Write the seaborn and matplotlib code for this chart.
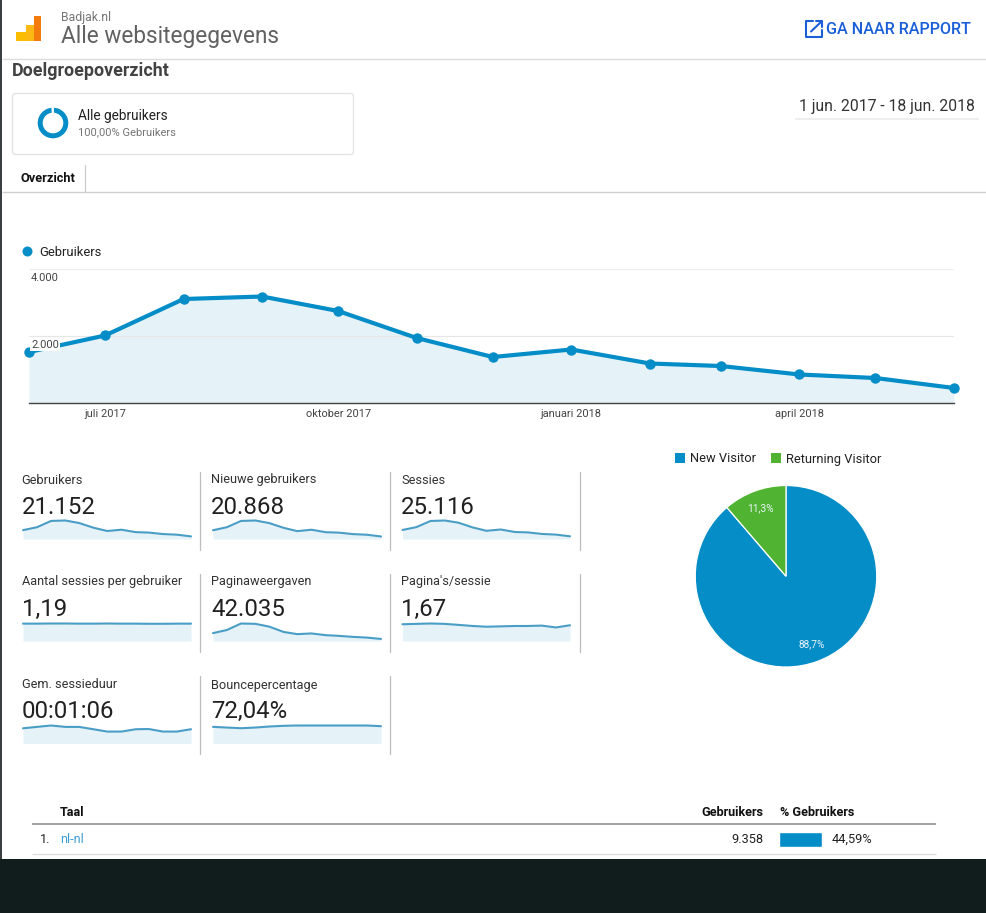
import pandas as pd
import seaborn as sns
import matplotlib
matplotlib.use("Agg")
import matplotlib.pyplot as plt
from matplotlib.patches import Rectangle, FancyBboxPatch

# Chart data
months = ["2017-06-01", "2017-07-01", "2017-08-01", "2017-09-01", "2017-10-01", "2017-11-01", "2017-12-01",
          "2018-01-01", "2018-02-01", "2018-03-01", "2018-04-01", "2018-05-01", "2018-06-01"]
gebruikers = [1522, 2015, 3104, 3179, 2746, 1940, 1373, 1597, 1179, 1104, 851, 746, 448]
nieuwe_gebruikers = [1480, 1990, 3060, 3130, 2700, 1900, 1330, 1570, 1150, 1080, 830, 720, 430]
sessies = [1810, 2370, 3600, 3700, 3260, 2310, 1640, 1900, 1400, 1320, 1010, 880, 540]
sessies_per_gebruiker = [1.19, 1.19, 1.20, 1.20, 1.19, 1.19, 1.20, 1.19, 1.19, 1.18, 1.18, 1.19, 1.19]
paginaweergaven = [3290, 4580, 7300, 7160, 6010, 3800, 2860, 3150, 2430, 2150, 1720, 1430, 860]
paginas_per_sessie = [1.82, 1.86, 1.90, 1.86, 1.75, 1.63, 1.55, 1.59, 1.63, 1.63, 1.67, 1.47, 1.71]
sessieduur = [65, 71, 77, 71, 71, 61, 51, 51, 61, 62, 51, 51, 61]
bounce = [70.3, 67.4, 64.5, 67.4, 71.7, 74.6, 76, 76, 76, 76, 76, 76, 73.1]

metric_names = ["Gebruikers", "Nieuwe gebruikers", "Sessies", "Aantal sessies per gebruiker", "Paginaweergaven",
                "Pagina's/sessie", "Gem. sessieduur", "Bouncepercentage"]
metric_totals = ["21.152", "20.868", "25.116", "1,19", "42.035", "1,67", "00:01:06", "72,04%"]
metric_series = [gebruikers, nieuwe_gebruikers, sessies, sessies_per_gebruiker, paginaweergaven,
                 paginas_per_sessie, sessieduur, bounce]

y_ticks = [2000, 4000]
y_tick_labels = ["2.000", "4.000"]
x_ticks = ["2017-07-01", "2017-10-01", "2018-01-01", "2018-04-01"]
x_tick_labels = ["juli 2017", "oktober 2017", "januari 2018", "april 2018"]

pie_labels = ["New Visitor", "Returning Visitor"]
pie_values = [88.7, 11.3]

taal_share = 44.59

BLUE = "#058dc7"
GREEN = "#50b432"
FILL = "#e5f2f8"
W, H = 986, 913

sns.set_theme(style="white")
plt.rcParams["font.family"] = ["Roboto", "DejaVu Sans"]

fig = plt.figure(figsize=(W / 100, H / 100), dpi=100)


def px_axes(x0, y0, x1, y1, **kw):
    # axes placed by screenshot pixels (y counted from the top)
    return fig.add_axes([x0 / W, 1 - y1 / H, (x1 - x0) / W, (y1 - y0) / H], **kw)


# Canvas for the page furniture, in pixel coordinates
canvas = px_axes(0, 0, W, H)
canvas.set_xlim(0, W)
canvas.set_ylim(H, 0)
canvas.axis("off")


def txt(x, y, s, size, color="#333333", ha="left", weight="normal"):
    canvas.text(x, y + 1, s, fontsize=size, color=color, ha=ha, va="center", weight=weight)


def hline(y, x0, x1, color="#dddddd", lw=0.8):
    canvas.plot([x0, x1], [y, y], color=color, lw=lw, solid_capstyle="butt")


# Window frame and dark footer
canvas.add_patch(Rectangle((0, 0), 2, 860, color="#3a3f42", lw=0))
canvas.add_patch(Rectangle((0, 859), W, 54, color="#111c1c", lw=0))

# Header
canvas.add_patch(Rectangle((16, 32.5), 11, 8.5, color="#fbbc04", lw=0))
canvas.add_patch(Rectangle((26, 25), 8, 16, color="#fdb913", lw=0))
canvas.add_patch(Rectangle((33.5, 16), 7.5, 25, color="#f37c0c", lw=0))
txt(61.5, 16, "Badjak.nl", 8.8, "#757575")
txt(61, 36, "Alle websitegegevens", 16.3, "#616161")
hline(59.5, 2, W, "#dcdcdc", 1)
txt(12, 70, "Doelgroepoverzicht", 12.9, "#424242", weight="bold")

ICON = "#1a5fd8"
canvas.plot([813, 806, 806, 821.5, 821.5], [21.5, 21.5, 37, 37, 30], color=ICON, lw=1.5)
canvas.plot([811, 821.5], [31.5, 21.5], color=ICON, lw=1.5)
canvas.plot([815.5, 821.5, 821.5], [21.5, 21.5, 27.5], color=ICON, lw=1.5)
txt(826, 28, "GA NAAR RAPPORT", 11.6, ICON, weight=500)

txt(975, 106, "1 jun. 2017 - 18 jun. 2018", 11.35, "#333333", ha="right")
hline(119.5, 795, 979, "#eeeeee", 1.4)

# Segment card
canvas.add_patch(FancyBboxPatch((12.5, 93.5), 341, 61, boxstyle="round,pad=0,rounding_size=3",
                                fc="white", ec="#e3e3e3", lw=0.9, mutation_aspect=1))
txt(78.5, 115, "Alle gebruikers", 9.8, "#212121")
txt(78.5, 131, "100,00% Gebruikers", 8, "#757575")
ring = px_axes(37, 107, 69, 139)
ring.pie([99.3, 0.7], colors=[BLUE, "#a8d8ee"], startangle=90, counterclock=False, radius=1,
         wedgeprops={"width": 0.4})
ring.set_xlim(-1, 1)
ring.set_ylim(-1, 1)

# Tab
txt(20.5, 177, "Overzicht", 9.2, "#111111", weight="bold")
canvas.plot([85, 85], [165, 192], color="#cccccc", lw=0.9)
hline(192.5, 2, W, "#cfcfcf", 1)

# Main chart legend
canvas.scatter([27], [251.5], s=52, color=BLUE, lw=0)
txt(39.5, 251, "Gebruikers", 9.4, "#212121")

dates = pd.to_datetime(months)
df = pd.DataFrame({"maand": dates, "gebruikers": gebruikers})

ax = px_axes(29, 269, 954, 403)
ax.patch.set_alpha(0)
ax.set_ylim(0, 4000)
ax.set_xlim(dates[0], dates[-1])
ax.fill_between(dates, gebruikers, 0, color=FILL, lw=0)
ax.axhline(2000, color="#e6e6e6", lw=0.8, zorder=1.5)
ax.axhline(4000, color="#eeeeee", lw=0.8, zorder=1.5)
sns.lineplot(data=df, x="maand", y="gebruikers", ax=ax, color=BLUE, lw=3, marker="o", markersize=7.5,
             markeredgewidth=0, errorbar=None, clip_on=False)
ax.set_xlabel("")
ax.set_ylabel("")
sns.despine(ax=ax, left=True, top=True, right=True)
ax.spines["bottom"].set_color("#444444")
ax.spines["bottom"].set_linewidth(1)
ax.set_xticks(pd.to_datetime(x_ticks), x_tick_labels, fontsize=7.9, color="#444444")
ax.set_yticks([])
ax.tick_params(axis="x", length=0, pad=4.5)
for v, lab in zip(y_ticks, y_tick_labels):
    ax.annotate(lab, xy=(0, v), xycoords=("axes fraction", "data"), xytext=(1.5, -6.3),
                textcoords="offset points", fontsize=7.9, color="#444444", va="center", ha="left",
                bbox={"fc": "white", "ec": "none", "pad": 0.8}, zorder=6)

# Scorecards with sparklines
col_x = [21.5, 211, 401]
spark_x = [(23, 191), (213, 381), (402.5, 570)]
sep_x = [200, 390, 579.5]
row_label_y = [479, 581, 684]
row_value_y = [506, 608, 710]
row_spark_y = [(520.5, 539), (623.5, 641), (725.5, 743.5)]
row_sep_y = [(472, 550), (574, 652), (676, 754)]

for i, (name, total, series) in enumerate(zip(metric_names, metric_totals, metric_series)):
    row, col = divmod(i, 3)
    txt(col_x[col], row_label_y[row], name, 9.2, "#333333")
    txt(col_x[col], row_value_y[row], total, 17.3, "#212121")
    spark = px_axes(spark_x[col][0], row_spark_y[row][0], spark_x[col][1], row_spark_y[row][1])
    spark.patch.set_alpha(0)
    spark.fill_between(dates, series, 0, color=FILL, lw=0)
    sns.lineplot(x=dates, y=series, ax=spark, color="#4a9ec6", lw=1.5, errorbar=None, clip_on=False)
    spark.set_xlim(dates[0], dates[-1])
    spark.set_ylim(0, max(series))
    spark.axis("off")
    canvas.plot([sep_x[col]] * 2, row_sep_y[row], color="#bdbdbd", lw=0.9)

# Pie
for x, color, lab, tx in zip([675, 771], [BLUE, GREEN], pie_labels, [689.5, 786]):
    canvas.add_patch(Rectangle((x, 453), 10, 10, color=color, lw=0))
    txt(tx, 458, lab, 9.3, "#222222")

pie_ax = px_axes(695, 485.5, 877, 667)
wedges, _, autotexts = pie_ax.pie(pie_values, colors=[BLUE, GREEN], startangle=90, counterclock=False,
                                  radius=1, pctdistance=0.8,
                                  autopct=lambda p: f"{p:.1f}%".replace(".", ","),
                                  wedgeprops={"edgecolor": "white", "linewidth": 0.9})
for t in autotexts:
    t.set_color("#e8f4f8")
    t.set_fontsize(7.3)
pie_ax.set_xlim(-1, 1)
pie_ax.set_ylim(-1, 1)

# Table
txt(60, 811, "Taal", 9.1, "#111111", weight="bold")
txt(763, 811, "Gebruikers", 9.1, "#111111", ha="right", weight="bold")
txt(779.5, 811, "% Gebruikers", 9.1, "#111111", weight="bold")
hline(824, 32, 936, "#8a8a8a", 1.1)
txt(40, 838.5, "1.", 9.1, "#222222")
txt(60, 838.5, "nl-nl", 9.1, "#3d9cd3")
txt(763, 838.5, "9.358", 9.2, "#222222", ha="right")
txt(832, 838.5, "44,59%", 9.2, "#222222")
hline(854.5, 32, 936, "#dddddd", 1)

bar_ax = px_axes(779, 832, 875.4, 847)
bar_ax.patch.set_alpha(0)
sns.barplot(x=[taal_share], y=["nl-nl"], ax=bar_ax, color=BLUE, saturation=1, width=1, orient="h")
bar_ax.set_xlim(0, 100)
bar_ax.axis("off")

fig.savefig("out.png", dpi=100)
